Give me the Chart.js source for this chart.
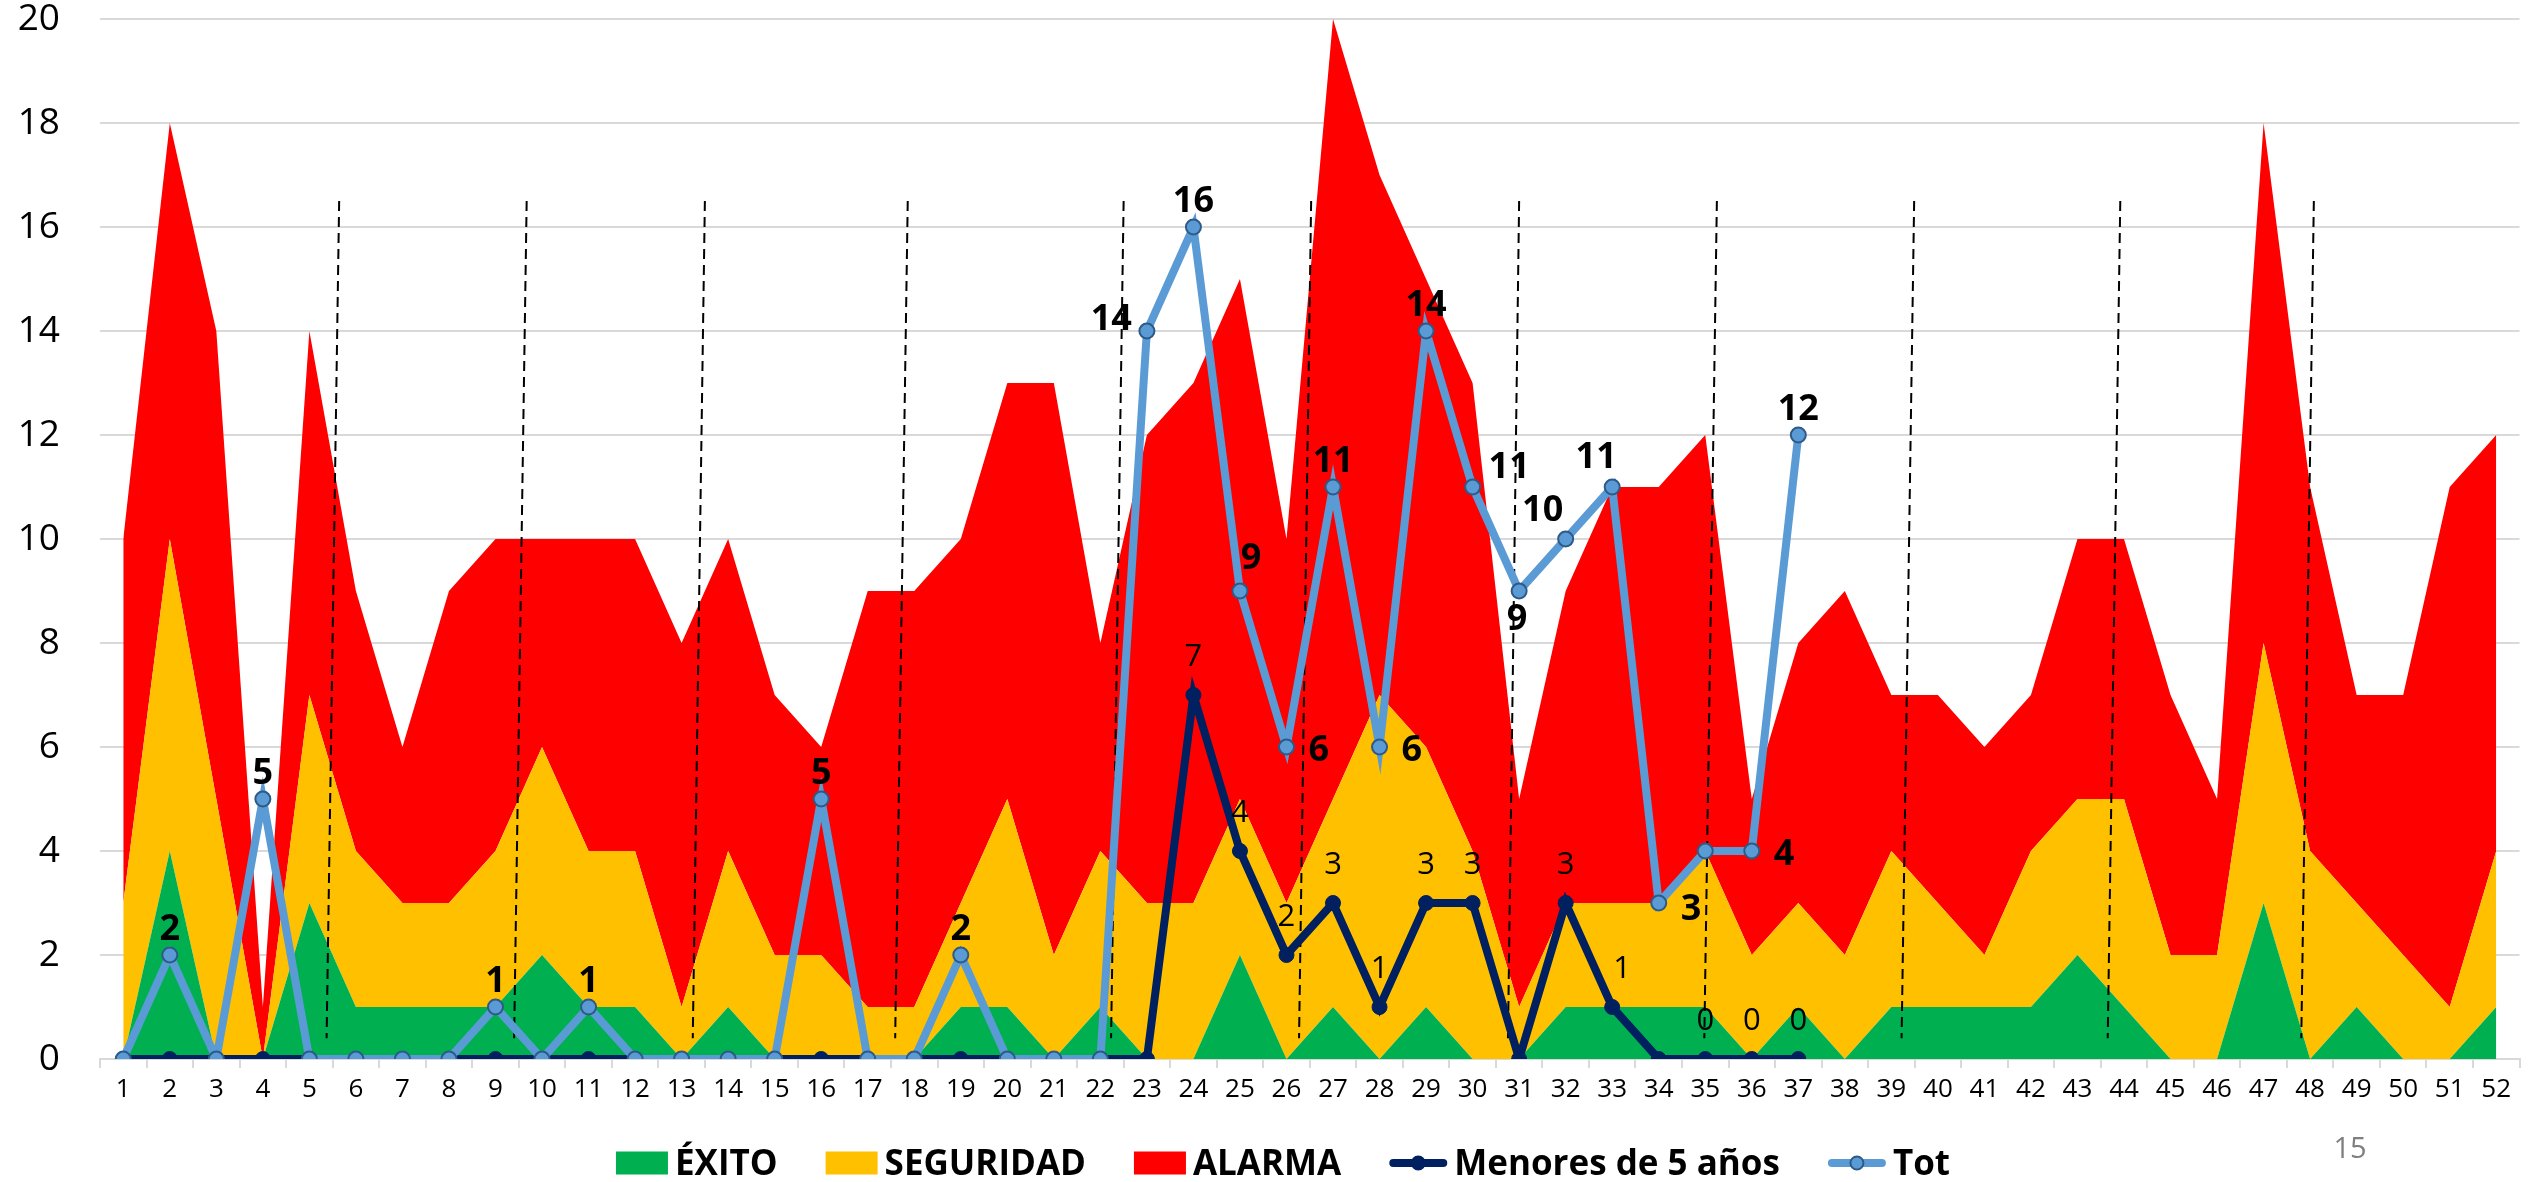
<!DOCTYPE html>
<html>
<head>
<meta charset="utf-8">
<script src="https://cdn.jsdelivr.net/npm/chart.js@4.4.1/dist/chart.umd.min.js"></script>
<style>
    html, body { margin: 0; padding: 0; background: #fff; }
    #wrap { position: relative; width: 2529px; height: 1182px; }
</style>
</head>
<body>
<div id="wrap"><canvas id="myChart" width="2529" height="1182"></canvas></div>
<script>
// weeks on the x axis
let weeks = ['1','2','3','4','5','6','7','8','9','10','11','12','13','14','15','16','17','18','19','20',
    '21','22','23','24','25','26','27','28','29','30','31','32','33','34','35','36','37','38','39','40',
    '41','42','43','44','45','46','47','48','49','50','51','52'];

// stacked areas (cases per week)
let exito = [0,4,0,0,3,1,1,1,1,2, 1,1,0,1,0,0,0,0,1,1, 0,1,0,0,2,0,1,0,1,0,
    0,1,1,1,1,0,1,0,1,1, 1,1,2,1,0,0,3,0,1,0, 0,1];
let seguridad = [3,6,5,0,4,3,2,2,3,4, 3,3,1,3,2,2,1,1,2,4, 2,3,3,3,3,3,4,7,5,4,
    1,2,2,2,3,2,2,2,3,2, 1,3,3,4,2,2,5,4,2,2, 1,3];
let alarma = [7,8,9,1,7,5,3,6,6,4, 6,6,7,6,5,4,8,8,7,8, 11,4,9,10,10,7,15,10,9,9,
    4,6,8,8,8,3,5,7,3,4, 4,3,5,5,5,3,10,7,4,5, 10,8];

// lines (weeks 1-37 only)
let menores = [0,0,0,0,0,0,0,0,0,0, 0,0,0,0,0,0,0,0,0,0, 0,0,0,7,4,2,3,1,3,3, 0,3,1,0,0,0,0];
let tot = [0,2,0,5,0,0,0,0,1,0, 1,0,0,0,0,5,0,0,2,0, 0,0,14,16,9,6,11,6,14,11, 9,10,11,3,4,4,12];

// vertical dashed separators, [x at top, x at bottom] in week units
let separators = [[5.64,5.37],[9.67,9.4],[13.5,13.24],[17.86,17.59],[22.5,22.23],[26.53,26.27],
    [31.0,30.76],[35.25,34.98],[39.49,39.22],[43.92,43.65],[48.08,47.81]];

// label placement for the two lines: [align, dx, dy]
const A = ['center', 0, -15], R = ['left', 22, 14];
let totLabelPos = [null,A,null,A,null,null,null,null,A,null, A,null,null,null,null,A,null,null,A,null,
    null,null,['right',-15,-1],A,['center',11,-22],R,A,R,A,['left',16,-9],
    ['center',-2,39],['center',-23,-18],['center',-16,-19],['left',22,17],null,R,A];
const M = ['center', 0, -29];
let menLabelPos = [];
for (let i = 0; i < menores.length; i++) menLabelPos.push(null);
[23,24,25,26,27,28,29,31,34,35,36].forEach(i => menLabelPos[i] = M);
menLabelPos[32] = ['center', 10, -29];

const FONT = '"Open Sans", "Noto Sans", sans-serif';

// dashed separators, drawn over the areas but under the lines
const separatorPlugin = {
    id: 'separators',
    afterDatasetDraw(chart, args) {
        if (args.index !== 0) return;
        let ctx = chart.ctx;
        let xs = chart.scales.x, ys = chart.scales.y;
        ctx.save();
        ctx.strokeStyle = '#000';
        ctx.lineWidth = 2;
        ctx.setLineDash([10, 6]);
        separators.forEach(s => {
            ctx.beginPath();
            ctx.moveTo(xs.getPixelForValue(s[0] - 1), ys.getPixelForValue(16.5));
            ctx.lineTo(xs.getPixelForValue(s[1] - 1), ys.getPixelForValue(0.4));
            ctx.stroke();
        });
        ctx.restore();
    }
};

// value labels on the two lines
const labelPlugin = {
    id: 'pointLabels',
    afterDatasetsDraw(chart) {
        let ctx = chart.ctx;
        ctx.save();
        ctx.fillStyle = '#000';
        ctx.textBaseline = 'alphabetic';
        let draw = (dsIndex, values, pos, font) => {
            let meta = chart.getDatasetMeta(dsIndex);
            ctx.font = font;
            values.forEach((v, i) => {
                let p = pos[i];
                if (!p) return;
                let pt = meta.data[i];
                ctx.textAlign = p[0];
                ctx.fillText(String(v), pt.x + p[1], pt.y + p[2]);
            });
        };
        draw(3, menores, menLabelPos, '31px ' + FONT);
        draw(4, tot, totLabelPos, 'bold 36px ' + FONT);
        ctx.restore();
    }
};

// bottom legend + page number
const legendPlugin = {
    id: 'customLegend',
    afterDraw(chart) {
        let ctx = chart.ctx;
        let y = 1163;
        ctx.save();
        ctx.font = 'bold 35px ' + FONT;
        ctx.textBaseline = 'middle';
        ctx.textAlign = 'left';
        let items = chart.data.datasets.map(ds => ({ ds: ds, w: (ds.fill !== false ? 52 : 58) + 7 + ctx.measureText(ds.label).width }));
        let total = items.reduce((a, it) => a + it.w, 0) + 48 * (items.length - 1);
        let x = 1283 - total / 2;
        items.forEach(it => {
            let ds = it.ds;
            if (ds.fill !== false) {
                ctx.fillStyle = ds.backgroundColor;
                ctx.fillRect(x, y - 11.5, 52, 23);
                x += 52;
            } else {
                ctx.strokeStyle = ds.borderColor;
                ctx.lineWidth = 8;
                ctx.lineCap = 'round';
                ctx.beginPath();
                ctx.moveTo(x + 4, y);
                ctx.lineTo(x + 54, y);
                ctx.stroke();
                ctx.beginPath();
                ctx.arc(x + 29, y, 6.5, 0, Math.PI * 2);
                ctx.fillStyle = ds.pointBackgroundColor;
                ctx.fill();
                ctx.lineWidth = 2;
                ctx.strokeStyle = ds.pointBorderColor;
                ctx.stroke();
                x += 58;
            }
            x += 7;
            ctx.fillStyle = '#000';
            ctx.fillText(ds.label, x, y + 2);
            x += ctx.measureText(ds.label).width + 48;
        });
        ctx.font = '29px ' + FONT;
        ctx.fillStyle = '#7F7F7F';
        ctx.textAlign = 'center';
        ctx.fillText('15', 2350, 1150);
        ctx.restore();
    }
};

const areaStyle = { borderWidth: 0, pointRadius: 0, pointHoverRadius: 0, tension: 0, stack: 'areas', order: 2 };

const config = {
    type: 'line',
    data: {
        labels: weeks,
        datasets: [
            Object.assign({ label: 'ÉXITO', data: exito, backgroundColor: '#00B050', borderColor: '#00B050', fill: 'origin' }, areaStyle),
            Object.assign({ label: 'SEGURIDAD', data: seguridad, backgroundColor: '#FFC000', borderColor: '#FFC000', fill: '-1' }, areaStyle),
            Object.assign({ label: 'ALARMA', data: alarma, backgroundColor: '#FF0000', borderColor: '#FF0000', fill: '-1' }, areaStyle),
            {
                label: 'Menores de 5 años',
                data: menores,
                borderColor: '#002060',
                backgroundColor: '#002060',
                pointBackgroundColor: '#002060',
                pointBorderColor: '#002060',
                borderWidth: 8,
                pointRadius: 7.5,
                pointBorderWidth: 1,
                tension: 0,
                fill: false,
                stack: 'men',
                order: 1
            },
            {
                label: 'Tot',
                data: tot,
                borderColor: '#5B9BD5',
                backgroundColor: '#5B9BD5',
                pointBackgroundColor: '#5B9BD5',
                pointBorderColor: '#2E5A87',
                borderWidth: 8,
                pointRadius: 7.5,
                pointBorderWidth: 2,
                tension: 0,
                fill: false,
                stack: 'tot',
                order: 0
            }
        ]
    },
    options: {
        responsive: false,
        animation: false,
        events: [],
        layout: { padding: { top: 19, right: 1, left: 0, bottom: 77 } },
        plugins: {
            legend: { display: false },
            tooltip: { enabled: false },
            title: { display: false }
        },
        scales: {
            x: {
                offset: true,
                grid: { drawOnChartArea: false, offset: true, tickLength: 9, color: '#D9D9D9', lineWidth: 2 },
                border: { color: '#D9D9D9', width: 2 },
                ticks: { color: '#000', font: { family: FONT, size: 26 }, padding: 6, maxRotation: 0, autoSkip: false },
                afterFit: s => { s.height = 46; s.paddingLeft = 0; s.paddingRight = 0; }
            },
            y: {
                stacked: true,
                min: 0,
                max: 20,
                grid: { color: '#D9D9D9', lineWidth: 2, drawTicks: false },
                border: { display: false },
                ticks: { stepSize: 2, color: '#000', font: { family: FONT, size: 37, lineHeight: 1 }, padding: 40 },
                afterFit: s => { s.width = 100; s.paddingTop = 0; s.paddingBottom = 0; }
            }
        }
    },
    plugins: [separatorPlugin, labelPlugin, legendPlugin]
};

let myChart = new Chart(document.getElementById('myChart'), config);
</script>
</body>
</html>
